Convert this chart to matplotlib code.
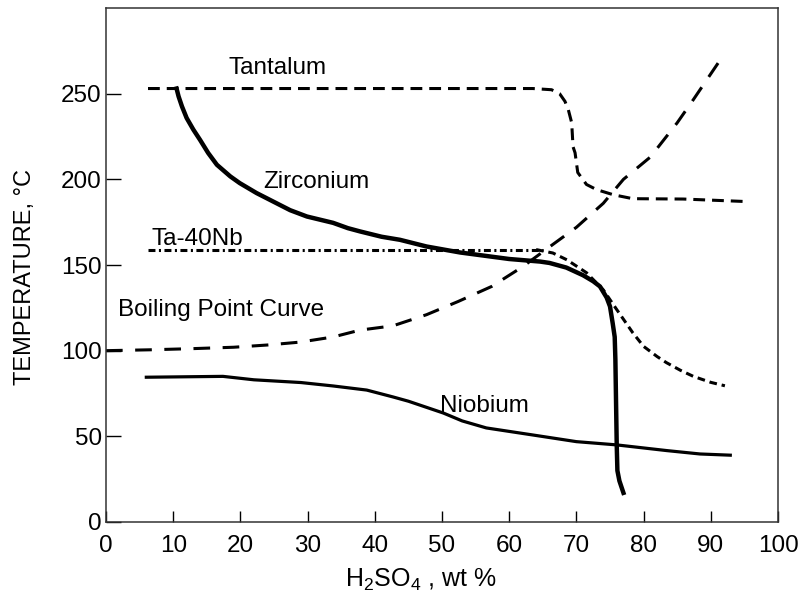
import matplotlib
matplotlib.use('Agg')
import matplotlib.pyplot as plt

plt.rcParams['font.family'] = ['Liberation Sans', 'DejaVu Sans']
plt.rcParams['mathtext.fontset'] = 'custom'
plt.rcParams['mathtext.rm'] = 'Liberation Sans'
plt.rcParams['mathtext.it'] = 'Liberation Sans'
plt.rcParams['lines.scale_dashes'] = False

# Werte (x = H2SO4 wt %, y = Temperatur °C)
tantalum_x = [6.25, 63.5, 66.3, 67.5, 68.3, 68.8, 69.3, 69.5, 69.8, 70.2, 71.5, 73.0, 75.5, 78.4, 85.9, 95.5]
tantalum_y = [253, 253, 252.3, 250, 245.5, 240.6, 233, 219, 215.5, 204, 197, 194, 191, 188.7, 188.5, 187]

zirconium_x = [10.5, 10.8, 11.3, 12.0, 13.0, 14.0, 15.2, 16.5, 18.5, 19.9, 22.4, 24.9, 27.4, 29.9,
               33.8, 36.0, 37.8, 41.0, 43.75, 47.7, 52.7, 60.0, 64.6, 66.0, 68.5, 71.0, 72.5, 73.5,
               74.5, 75.0, 75.4, 75.7, 75.8, 75.9, 76.0, 76.1, 76.4, 77.0]
zirconium_y = [253, 248.4, 242.6, 235.8, 229, 223, 215.4, 208.5, 201.7, 197.8, 192, 187, 182, 178.3,
               174.6, 171.5, 169.6, 166.5, 164.7, 160.8, 157.3, 153.5, 152, 151.2, 148.5, 144, 140.5, 137.5,
               131, 125.8, 116, 108, 95, 70, 45, 30, 24, 17]

ta40nb_x = [6.25, 65.0]
ta40nb_y = [159, 159]
ta40nb_drop_x = [64.0, 66.5, 68.6, 71.5, 74.0, 76.0, 78.4, 80.0, 82.0, 83.4, 85.5, 87.4, 90.0, 92.1]
ta40nb_drop_y = [159, 157, 153, 145.5, 135.5, 124, 110.4, 102.5, 96.6, 93, 88.5, 85, 81.5, 79.5]

boiling_x = [0, 6.5, 13, 19, 24, 28.9, 33.8, 37.8, 42.7, 47.7, 52.4, 57.4, 62, 66.5, 70, 74, 77, 81, 85, 87.4, 91.8]
boiling_y = [100, 100.5, 101.2, 102, 103.3, 105, 108, 112, 114.5, 121, 128.7, 137.5, 149, 162, 172, 186, 200, 213, 233, 246.5, 272]

niobium_x = [6, 17.4, 22, 29, 33.8, 38.8, 42.7, 45, 50.2, 53, 56.6, 63.5, 70, 76, 83.4, 88.4, 92.9]
niobium_y = [84.5, 85, 83, 81.4, 79.4, 77, 73, 70.5, 63.6, 59, 54.9, 50.8, 46.9, 45, 41.7, 39.7, 39]

fig = plt.figure(figsize=(8.01, 6.0), dpi=100)
ax = fig.add_axes([106 / 801, 78 / 600, 672 / 801, 514 / 600])

ax.plot(tantalum_x, tantalum_y, color='black', linewidth=2.2, dashes=(8.5, 5))
ax.plot(zirconium_x, zirconium_y, color='black', linewidth=3.2, solid_joinstyle='round')
ax.plot(ta40nb_x, ta40nb_y, color='black', linewidth=2.2, dashes=(5, 2.5, 1.5, 2.5))
ax.plot(ta40nb_drop_x, ta40nb_drop_y, color='black', linewidth=2.2, dashes=(5.5, 3.5))
ax.plot(boiling_x, boiling_y, color='black', linewidth=2.2, dashes=(12, 9))
ax.plot(niobium_x, niobium_y, color='black', linewidth=2.3, solid_joinstyle='round')

fs = 17.5
ax.text(18.2, 261.7, 'Tantalum', fontsize=fs, ha='left', va='baseline')
ax.text(23.4, 195, 'Zirconium', fontsize=fs, ha='left', va='baseline')
ax.text(6.7, 161.8, 'Ta-40Nb', fontsize=fs, ha='left', va='baseline')
ax.text(1.8, 120.3, 'Boiling Point Curve', fontsize=fs, ha='left', va='baseline')
ax.text(49.7, 64.2, 'Niobium', fontsize=fs, ha='left', va='baseline')

ax.set_xlim(0, 100)
ax.set_ylim(0, 300)
ax.set_xticks(range(0, 101, 10))
ax.set_yticks(range(0, 251, 50))
ax.tick_params(axis='x', direction='in', length=8, width=1, pad=9, labelsize=fs, colors='black')
ax.tick_params(axis='y', direction='in', length=10.5, width=1, pad=3, labelsize=fs, colors='black')
for s in ax.spines.values():
    s.set_color('#333333')
    s.set_linewidth(1.1)

fig.text(25 / 801, 1 - 277 / 600, 'TEMPERATURE, °C', fontsize=17, rotation=90, ha='center', va='center')
fig.text(421 / 801, 1 - 580 / 600, 'H$_2$SO$_4$ , wt %', fontsize=18, ha='center', va='center')

fig.savefig('out.png', dpi=100)
